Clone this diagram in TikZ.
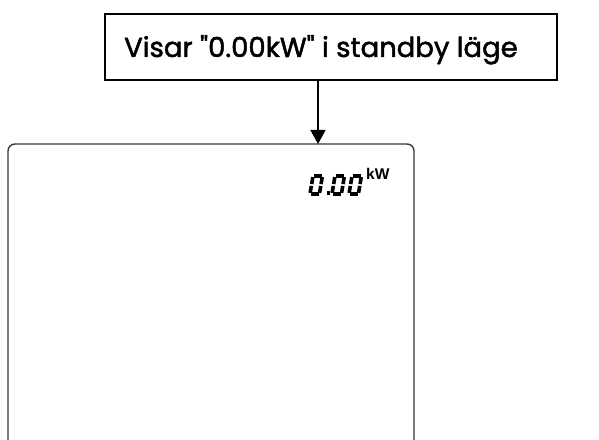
\documentclass[tikz,border=0pt]{standalone}
\usepackage{fontspec}
\newfontfamily\capfont{Poppins}[FakeBold=1.8]
\newfontfamily\unitfont{Liberation Sans}
\usetikzlibrary{arrows.meta}

% one slanted seven-segment "0": six segments, middle bar left out
\newcommand{\segzero}[2]{%
  \begin{scope}[shift={(#1,#2)}, xslant=0.17, segment]
    \draw (2.6,19.1) -- (10.4,19.1);   % top
    \draw (1.8,17.9) -- (1.8,10.9);    % upper left
    \draw (11.2,17.9) -- (11.2,10.9);  % upper right
    \draw (1.8,9.1) -- (1.8,2.1);      % lower left
    \draw (11.2,9.1) -- (11.2,2.1);    % lower right
    \draw (2.6,0.9) -- (10.4,0.9);     % bottom
  \end{scope}}

\begin{document}
\begin{tikzpicture}[x=1pt, y=1pt,
  labelbox/.style={draw=black, line width=1.7pt},
  panel/.style={draw=black!78, line width=1.4pt, rounded corners=7pt},
  link/.style={draw=black, line width=1.6pt, -{Triangle[width=15pt,length=14pt]}},
  segment/.style={line width=3.6pt, line cap=butt, black},
  caption/.style={font=\capfont\fontsize{27.5}{32}\selectfont, inner sep=0pt, anchor=base west},
  unit/.style={font=\unitfont\bfseries\fontsize{15.5}{17}\selectfont, inner sep=0pt, anchor=base west}]
  \useasboundingbox (0,0) rectangle (599,439);
  \clip (0,0) rectangle (599,439);

  % caption box at the top
  \draw[labelbox] (105,359) rectangle (557,425);
  \node[caption] (cap) at (124,382) {Visar "0.00kW" i standby läge};
  \coordinate (capfoot) at (318,359);

  % display panel, running off the lower edge
  \draw[panel] (8,-20) -- (8,295) -- (414,295) -- (414,-20);
  \coordinate (paneltop) at (318,295);

  \draw[link] (capfoot) -- (paneltop);

  % reading 0.00 kW
  \segzero{308}{244}
  \fill (326.6,244.2) rectangle (330.0,247.6);
  \segzero{330}{244}
  \segzero{347}{244}
  \node[unit] (kw) at (366,259) {kW};
\end{tikzpicture}
\end{document}
